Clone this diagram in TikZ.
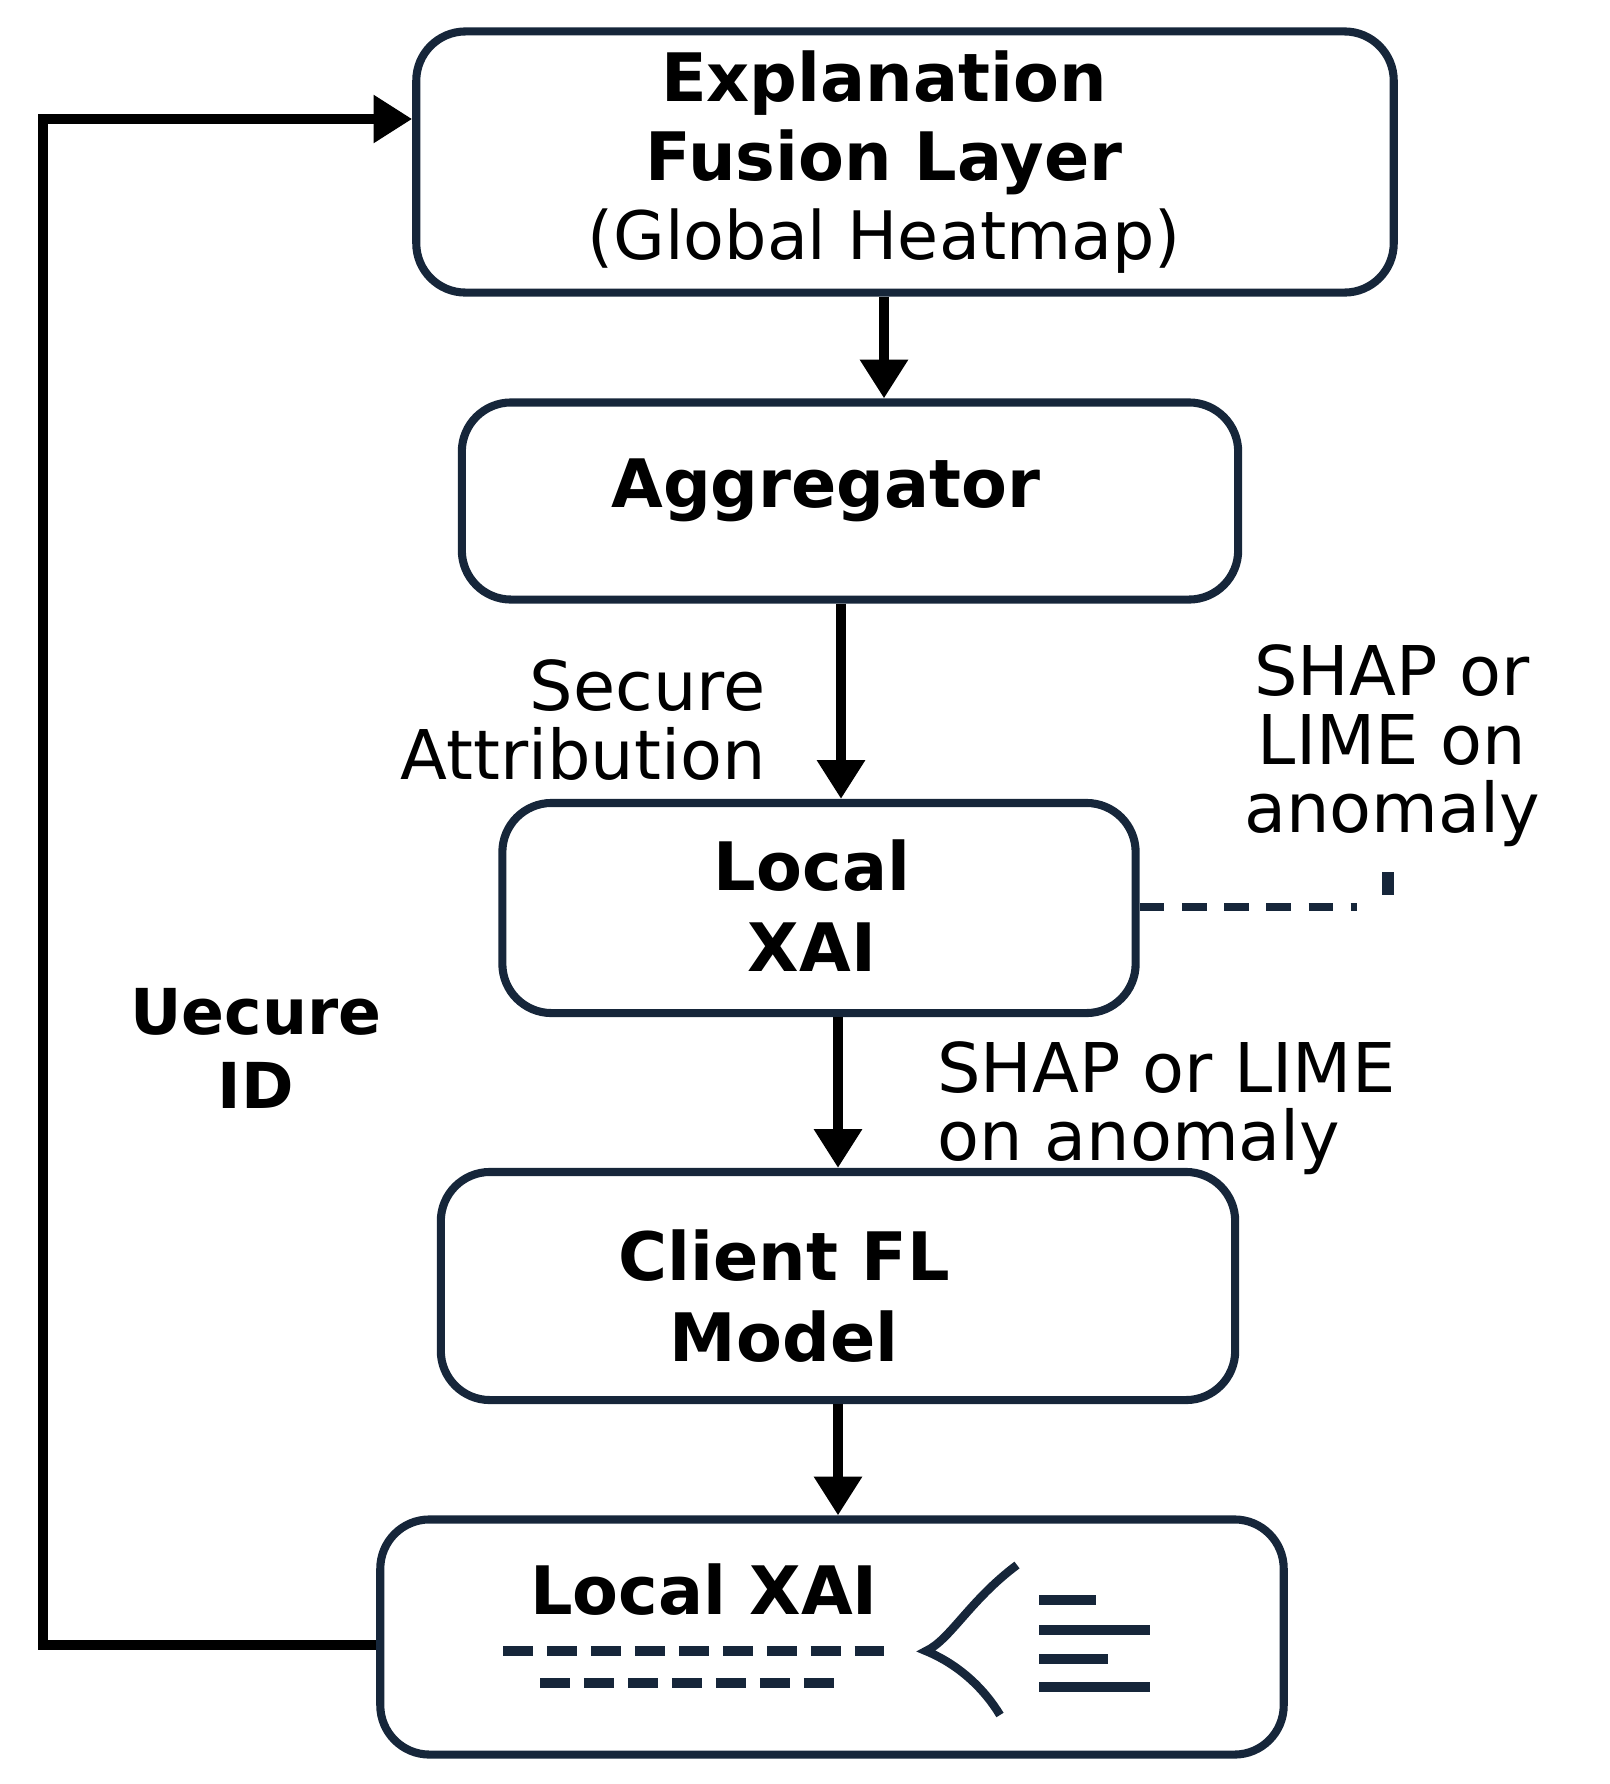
\documentclass[tikz,border=0pt]{standalone}
\usepackage{fontspec}
\setmainfont{DejaVu Sans}
\usetikzlibrary{arrows.meta}
\definecolor{navy}{HTML}{16263A}
\tikzset{
  box/.style={draw=navy,line width=2.3pt,rounded corners=14pt,inner sep=0pt},
  flow/.style={line width=2.8pt,-{Triangle[length=11pt,width=13pt]}},
  lbl/.style={font=\fontsize{19.5}{19.5}\selectfont,align=center},
  big/.style={align=center,font=\bfseries\fontsize{19}{23}\selectfont}
}
\begin{document}
\begin{tikzpicture}[x=0.01cm,y=-0.01cm]
	\useasboundingbox (0,0) rectangle (1610,1784);
	% boxes
	\node[box,minimum width=977*0.2845pt,minimum height=261*0.2845pt] (fuse) at (905,162) {};
	\node[box,minimum width=776*0.2845pt,minimum height=197*0.2845pt] (agg) at (850,501) {};
	\node[box,minimum width=633*0.2845pt,minimum height=210*0.2845pt] (lxai) at (819,908) {};
	\node[box,minimum width=794*0.2845pt,minimum height=228*0.2845pt] (client) at (838,1286) {};
	\node[box,minimum width=903*0.2845pt,minimum height=235*0.2845pt] (bot) at (832,1637) {};
	% texts
	\node[align=center,font=\fontsize{19}{22.5}\selectfont] at (884,162) {\textbf{Explanation}\\\textbf{Fusion Layer}\\(Global Heatmap)};
	\node[big] at (826,490) {Aggregator};
	\node[big] at (812,906) {Local\\XAI};
	\node[big] at (784,1296) {Client FL\\Model};
	\node[big] at (704,1590) {Local XAI};
	\node[lbl,align=right,anchor=east] at (778,720) {Secure\\Attribution};
	\node[lbl] at (1392,746) {SHAP or\\LIME on\\anomaly};
	\node[lbl,align=left,anchor=west] at (925,1108) {SHAP or LIME\\on anomaly};
	\node[lbl,font=\bfseries\fontsize{18}{21}\selectfont] at (256,1048) {Uecure\\ID};
	% arrows
	\draw[flow] (fuse.south -| 884,0) -- (agg.north -| 884,0);
	\draw[flow] (agg.south -| 841,0) -- (lxai.north -| 841,0);
	\draw[flow] (lxai.south -| 838,0) -- (client.north -| 838,0);
	\draw[flow] (client.south -| 838,0) -- (bot.north -| 838,0);
	\coordinate (c1) at (43,1645);
	\coordinate (c2) at (43,119);
	\draw[flow] (bot.west |- c1) -- (c1) -- (c2) -- (fuse.west |- c2);
	% dashed link
	\draw[navy,line width=2.2pt,dash pattern=on 7pt off 5pt] (lxai.east |- 0,907) -- (1357,907);
	\draw[navy,line width=3.2pt] (1388,872) -- (1388,895);
	% icon in bottom box
	\draw[navy,line width=2.8pt,dash pattern=on 8.5pt off 4pt] (503,1651) -- (884,1651);
	\draw[navy,line width=2.8pt,dash pattern=on 8.5pt off 4pt] (540,1683) -- (846,1683);
	\draw[navy,line width=2.4pt] (1017,1565) .. controls (970,1600) and (950,1640) .. (926,1651) .. controls (960,1665) and (985,1690) .. (1000,1715);
	\foreach \y/\e in {1600/1096,1630/1150,1659/1108,1687/1150}
		\draw[navy,line width=2.8pt] (1039,\y) -- (\e,\y);
\end{tikzpicture}
\end{document}
